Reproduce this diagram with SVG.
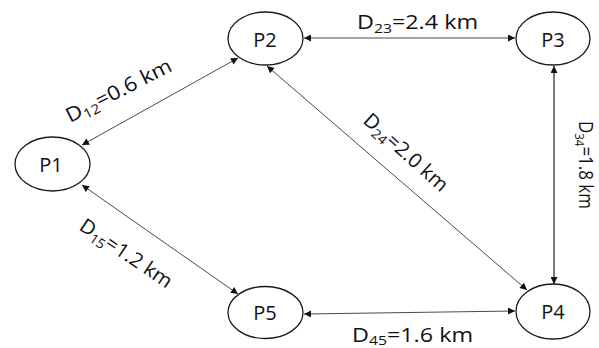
<svg xmlns="http://www.w3.org/2000/svg" width="599" height="348" viewBox="0 0 599 348">
  <style>
    .node ellipse { fill: #ffffff; stroke: #1a1a1a; stroke-width: 1.3; }
    .node text { font-family: "Open Sans", "DejaVu Sans", sans-serif; font-size: 20px; fill: #111; text-anchor: middle; }
    .edge { stroke: #4a4a4a; stroke-width: 1; fill: none; marker-start: url(#tip); marker-end: url(#tip); }
    .edge.dark { stroke: #222; stroke-width: 1.2; }
    .lbl { font-family: "Open Sans", "DejaVu Sans", sans-serif; font-size: 20px; fill: #111; }
    .sub { font-size: 13.5px; }
  </style>
  <defs>
    <marker id="tip" viewBox="0 0 10 10" refX="10" refY="5" markerWidth="9" markerHeight="7" markerUnits="userSpaceOnUse" orient="auto-start-reverse">
      <path d="M0,0 L10,5 L0,10 z" fill="#111"/>
    </marker>
  </defs>

  <rect width="599" height="348" fill="#ffffff"/>

  <!-- links between stations -->
  <g id="connectors">
    <line class="edge" x1="82" y1="145" x2="238" y2="58"/>
    <line class="edge" x1="304" y1="38" x2="515" y2="38"/>
    <line class="edge" x1="267" y1="66" x2="527" y2="290"/>
    <line class="edge dark" x1="554" y1="66" x2="554" y2="284"/>
    <line class="edge" x1="82" y1="185" x2="238" y2="294"/>
    <line class="edge" x1="304" y1="314" x2="515" y2="311"/>
  </g>

  <!-- distance labels -->
  <g id="labels">
    <text class="lbl" transform="translate(70,123) rotate(-27)" textLength="116" lengthAdjust="spacingAndGlyphs">D<tspan class="sub" dy="4">12</tspan><tspan dy="-4">=0.6 km</tspan></text>
    <text class="lbl" x="357" y="29" textLength="121" lengthAdjust="spacingAndGlyphs">D<tspan class="sub" dy="4">23</tspan><tspan dy="-4">=2.4 km</tspan></text>
    <text class="lbl" transform="translate(362,122) rotate(42)" textLength="106" lengthAdjust="spacingAndGlyphs">D<tspan class="sub" dy="4">24</tspan><tspan dy="-4">=2.0 km</tspan></text>
    <text class="lbl" transform="translate(579,121) rotate(90)" textLength="88" lengthAdjust="spacingAndGlyphs">D<tspan class="sub" dy="4">34</tspan><tspan dy="-4">=1.8 km</tspan></text>
    <text class="lbl" transform="translate(78,229) rotate(34)" textLength="107" lengthAdjust="spacingAndGlyphs">D<tspan class="sub" dy="4">15</tspan><tspan dy="-4">=1.2 km</tspan></text>
    <text class="lbl" x="352" y="342" textLength="121" lengthAdjust="spacingAndGlyphs">D<tspan class="sub" dy="3">45</tspan><tspan dy="-3">=1.6 km</tspan></text>
  </g>

  <!-- stations -->
  <g id="P1" class="node">
    <ellipse cx="52.5" cy="164" rx="37.5" ry="27"/>
    <text x="51" y="172">P1</text>
  </g>
  <g id="P2" class="node">
    <ellipse cx="265.5" cy="38.5" rx="37.5" ry="26.5"/>
    <text x="265" y="46.5">P2</text>
  </g>
  <g id="P3" class="node">
    <ellipse cx="553" cy="38.5" rx="37" ry="26.5"/>
    <text x="553" y="46.5">P3</text>
  </g>
  <g id="P4" class="node">
    <ellipse cx="553" cy="311.5" rx="37" ry="27.5"/>
    <text x="553" y="318.5">P4</text>
  </g>
  <g id="P5" class="node">
    <ellipse cx="265.5" cy="312.5" rx="37.5" ry="26"/>
    <text x="265" y="320">P5</text>
  </g>
</svg>
